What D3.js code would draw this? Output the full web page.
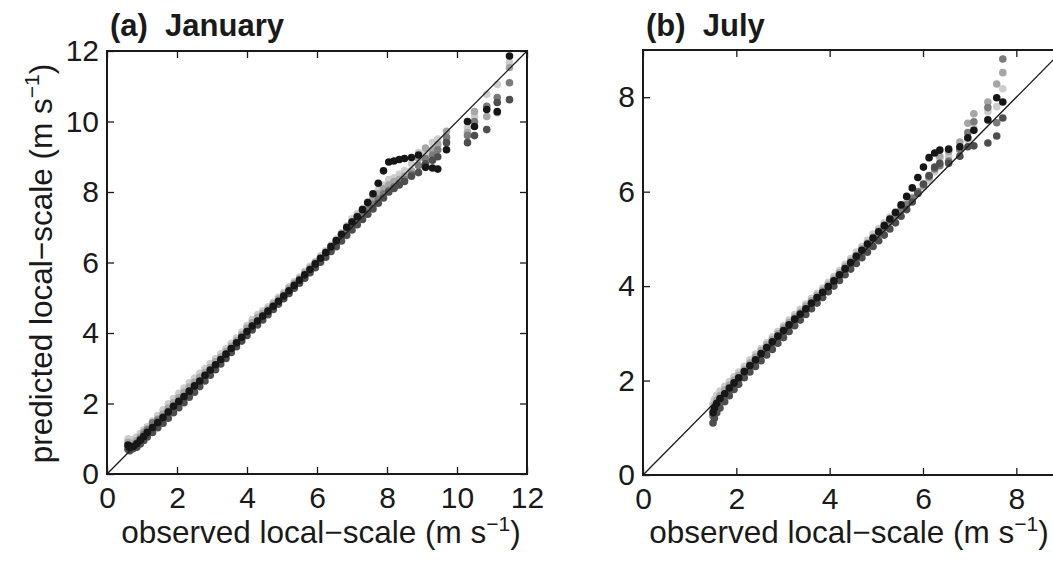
<!DOCTYPE html>
<html><head><meta charset="utf-8">
<script src="https://cdn.jsdelivr.net/npm/d3@7"></script>
<style>
body{margin:0;background:#fff}
svg{display:block}
text{font-family:Arial,"Liberation Sans",Helvetica,sans-serif;fill:#1a1a1a}
</style>
</head><body><svg id="c" width="1053" height="564"></svg>
<script>
// ---------- DATA ----------
const seriesNames = ["s1", "s2", "s3", "s4", "s5"];
const tickValsJan = [0, 2, 4, 6, 8, 10, 12];
const tickValsJul = [0, 2, 4, 6, 8];
const titles = ["(a)  January", "(b)  July"];

// January: observed quantiles (shared) and predicted quantiles per member
const janObs = [0.60,0.65,0.75,0.85,0.95,1.05,1.15,1.30,1.45,1.60,1.75,1.90,2.05,2.20,2.35,2.50,2.65,2.80,2.95,3.10,3.25,3.40,3.55,3.70,3.85,4.00,4.15,4.30,4.45,4.60,4.75,4.90,5.05,5.20,5.35,5.50,5.65,5.80,5.95,6.10,6.25,6.40,6.55,6.70,6.85,7.00,7.15,7.30,7.45,7.60,7.75,7.90,8.05,8.20,8.35,8.50,8.70,8.90,9.10,9.30,9.45,9.70,10.30,10.50,10.85,11.15,11.50];
const janPred1 = [1.00,0.95,0.98,1.05,1.15,1.25,1.34,1.50,1.66,1.82,1.99,2.14,2.29,2.44,2.59,2.72,2.86,2.99,3.13,3.27,3.41,3.55,3.71,3.86,4.03,4.21,4.38,4.52,4.63,4.74,4.87,5.01,5.15,5.31,5.45,5.59,5.75,5.89,6.03,6.19,6.33,6.49,6.66,6.84,7.04,7.24,7.39,7.53,7.72,7.90,8.05,8.20,8.35,8.40,8.50,8.60,8.80,9.12,9.10,9.40,9.50,9.45,9.83,10.14,10.77,11.05,11.68];
const janPred2 = [0.90,0.85,0.88,0.95,1.05,1.18,1.28,1.42,1.56,1.70,1.87,2.02,2.17,2.32,2.47,2.60,2.74,2.88,3.02,3.18,3.32,3.47,3.62,3.78,3.95,4.14,4.30,4.44,4.55,4.67,4.82,4.96,5.10,5.26,5.40,5.54,5.70,5.84,5.99,6.14,6.30,6.46,6.62,6.78,6.97,7.16,7.32,7.47,7.66,7.82,7.95,8.10,8.20,8.30,8.35,8.45,8.60,8.95,9.25,9.20,9.35,9.72,9.69,10.28,10.14,10.25,11.53];
const janPred3 = [0.78,0.72,0.80,0.88,1.00,1.12,1.25,1.45,1.52,1.62,1.78,1.92,2.05,2.18,2.32,2.48,2.62,2.78,2.92,3.08,3.24,3.40,3.55,3.70,3.86,4.04,4.20,4.34,4.48,4.62,4.76,4.90,5.05,5.20,5.34,5.48,5.63,5.78,5.93,6.08,6.24,6.38,6.54,6.70,6.88,7.05,7.20,7.35,7.50,7.65,7.80,7.95,8.05,8.15,8.25,8.35,8.50,8.75,8.95,9.05,9.20,9.55,9.60,10.00,10.43,10.68,11.10];
const janPred4 = [0.70,0.66,0.72,0.76,0.85,0.95,1.05,1.18,1.31,1.44,1.58,1.74,1.88,2.02,2.18,2.32,2.48,2.64,2.80,2.96,3.12,3.28,3.45,3.61,3.77,3.93,4.09,4.23,4.37,4.52,4.67,4.82,4.97,5.12,5.27,5.41,5.55,5.71,5.85,6.01,6.15,6.31,6.45,6.61,6.77,6.92,7.07,7.22,7.37,7.52,7.68,7.83,8.00,8.10,8.20,8.30,8.45,8.55,8.80,8.90,9.00,9.40,9.40,9.60,9.77,10.54,10.62];
const janPred5 = [0.82,0.75,0.78,0.86,0.96,1.06,1.18,1.32,1.46,1.60,1.76,1.92,2.06,2.20,2.35,2.50,2.64,2.80,2.95,3.10,3.25,3.40,3.56,3.72,3.88,4.04,4.20,4.34,4.48,4.62,4.76,4.90,5.05,5.20,5.35,5.50,5.65,5.80,5.96,6.12,6.28,6.45,6.62,6.80,7.00,7.15,7.30,7.50,7.70,7.95,8.25,8.60,8.85,8.88,8.92,8.95,8.98,9.05,8.70,8.68,8.65,9.20,10.00,9.86,10.34,10.28,11.86];

// July: observed quantiles (shared) and predicted quantiles per member
const julObs = [1.50,1.53,1.58,1.65,1.75,1.85,1.95,2.05,2.17,2.29,2.41,2.53,2.65,2.77,2.89,3.01,3.13,3.25,3.37,3.49,3.61,3.73,3.85,3.97,4.09,4.21,4.33,4.45,4.57,4.69,4.81,4.93,5.05,5.17,5.29,5.41,5.53,5.65,5.77,5.89,6.01,6.13,6.25,6.36,6.55,6.79,6.96,7.09,7.39,7.58,7.71];
const julPred1 = [1.50,1.60,1.69,1.78,1.88,1.98,2.08,2.18,2.30,2.44,2.56,2.68,2.80,2.92,3.04,3.16,3.28,3.40,3.51,3.62,3.74,3.85,3.96,4.08,4.20,4.33,4.46,4.59,4.72,4.84,4.97,5.10,5.22,5.34,5.46,5.58,5.68,5.78,5.88,5.99,6.10,6.24,6.42,6.70,6.75,6.85,7.10,7.35,7.69,7.80,8.18];
const julPred2 = [1.40,1.48,1.58,1.68,1.80,1.90,2.01,2.11,2.23,2.37,2.50,2.63,2.75,2.87,2.99,3.11,3.23,3.34,3.45,3.57,3.69,3.80,3.91,4.03,4.15,4.28,4.41,4.53,4.66,4.79,4.91,5.04,5.17,5.30,5.42,5.53,5.63,5.73,5.84,5.97,6.12,6.30,6.50,6.75,6.85,7.05,7.45,7.65,7.90,8.28,8.52];
const julPred3 = [1.25,1.35,1.46,1.56,1.68,1.80,1.92,2.02,2.15,2.28,2.40,2.54,2.66,2.78,2.90,3.02,3.15,3.27,3.38,3.50,3.62,3.74,3.85,3.97,4.09,4.22,4.35,4.47,4.60,4.72,4.84,4.97,5.10,5.23,5.36,5.48,5.60,5.72,5.86,6.00,6.15,6.32,6.48,6.55,6.65,6.90,7.25,7.48,7.78,7.46,8.81];
const julPred4 = [1.10,1.20,1.32,1.42,1.55,1.68,1.81,1.92,2.06,2.18,2.30,2.42,2.54,2.66,2.79,2.91,3.04,3.16,3.28,3.40,3.52,3.64,3.76,3.88,4.00,4.12,4.24,4.36,4.48,4.60,4.72,4.84,4.96,5.08,5.21,5.34,5.48,5.62,5.78,5.96,6.16,6.34,6.52,6.60,6.60,6.75,6.95,6.97,7.03,7.18,7.56];
const julPred5 = [1.32,1.42,1.52,1.62,1.72,1.84,1.95,2.06,2.19,2.32,2.44,2.57,2.70,2.82,2.94,3.06,3.18,3.30,3.41,3.52,3.64,3.76,3.87,3.99,4.11,4.24,4.37,4.50,4.63,4.76,4.89,5.02,5.15,5.28,5.42,5.56,5.72,5.90,6.08,6.30,6.52,6.72,6.82,6.88,6.90,6.95,7.14,7.30,7.52,7.99,7.90];

// ---------- STYLE ----------
const palette = ["#cdcdcd", "#a6a6a6", "#7b7b7b", "#4e4e4e", "#161616"];
const svg = d3.select("#c");

function panel(cfg) {
  const x = d3.scaleLinear().domain([0, cfg.max]).range([cfg.left, cfg.left + cfg.w]);
  const y = d3.scaleLinear().domain([0, cfg.max]).range([cfg.top + cfg.h, cfg.top]);
  const g = svg.append("g");

  // points
  cfg.preds.forEach((pred, si) => {
    const pts = cfg.obs.map((o, i) => [o, pred[i]]);
    g.append("g").selectAll("circle").data(pts).join("circle")
      .attr("cx", d => x(d[0])).attr("cy", d => y(d[1]))
      .attr("r", 3.8).attr("fill", palette[si]);
  });

  // 1:1 line
  g.append("line")
    .attr("x1", x(0)).attr("y1", y(0)).attr("x2", x(cfg.max)).attr("y2", y(cfg.max))
    .attr("stroke", "#1a1a1a").attr("stroke-width", 1.3);

  const fs = "30px";
  const bottom = g.append("g").attr("transform", `translate(0,${cfg.top + cfg.h})`)
    .call(d3.axisBottom(x).tickValues(cfg.ticks).tickSizeInner(-7).tickSizeOuter(0).tickPadding(13).tickFormat(d3.format("d")));
  const left = g.append("g").attr("transform", `translate(${cfg.left},0)`)
    .call(d3.axisLeft(y).tickValues(cfg.ticks).tickSizeInner(-7).tickSizeOuter(0).tickPadding(8).tickFormat(d3.format("d")));
  const top = g.append("g").attr("transform", `translate(0,${cfg.top})`)
    .call(d3.axisTop(x).tickValues(cfg.ticks).tickSizeInner(-7).tickSizeOuter(0).tickFormat(""));
  const right = g.append("g").attr("transform", `translate(${cfg.left + cfg.w},0)`)
    .call(d3.axisRight(y).tickValues(cfg.ticks).tickSizeInner(-7).tickSizeOuter(0).tickFormat(""));
  [bottom, left, top, right].forEach(a => {
    a.select(".domain").remove();
    a.selectAll("line").attr("stroke", "#1a1a1a").attr("stroke-width", 1.3);
    a.selectAll("text").attr("font-size", fs).attr("font-family", "Arial, 'Liberation Sans', sans-serif").attr("fill", "#1a1a1a");
  });

  // frame
  g.append("rect").attr("x", cfg.left).attr("y", cfg.top).attr("width", cfg.w).attr("height", cfg.h)
    .attr("fill", "none").attr("stroke", "#1a1a1a").attr("stroke-width", 2);

  // title
  g.append("text").attr("x", cfg.left + 3).attr("y", 36)
    .attr("font-size", "31px").attr("font-weight", "bold")
    .style("white-space", "pre").text(cfg.title);

  // x label
  const xl = g.append("text").attr("x", cfg.labelCx).attr("y", 543)
    .attr("text-anchor", "middle").attr("font-size", "31.5px");
  xl.append("tspan").text("observed local\u2212scale (m s");
  xl.append("tspan").attr("font-size", "21px").attr("dy", -12).text("\u22121");
  xl.append("tspan").attr("dy", 12).text(")");

  if (cfg.ylabel) {
    const yl = g.append("text")
      .attr("transform", `translate(52,${cfg.top + cfg.h / 2 + 1}) rotate(-90)`)
      .attr("text-anchor", "middle").attr("font-size", "31.5px");
    yl.append("tspan").text("predicted local\u2212scale (m s");
    yl.append("tspan").attr("font-size", "21px").attr("dy", -13).text("\u22121");
    yl.append("tspan").attr("dy", 13).text(")");
  }
}

panel({left: 107, top: 51, w: 420, h: 423, max: 12, ticks: tickValsJan, title: titles[0], labelCx: 321,
  obs: janObs, preds: [janPred1, janPred2, janPred3, janPred4, janPred5], ylabel: true});
panel({left: 643, top: 50, w: 420, h: 425, max: 9, ticks: tickValsJul, title: titles[1], labelCx: 849,
  obs: julObs, preds: [julPred1, julPred2, julPred3, julPred4, julPred5], ylabel: false});
</script></body></html>
